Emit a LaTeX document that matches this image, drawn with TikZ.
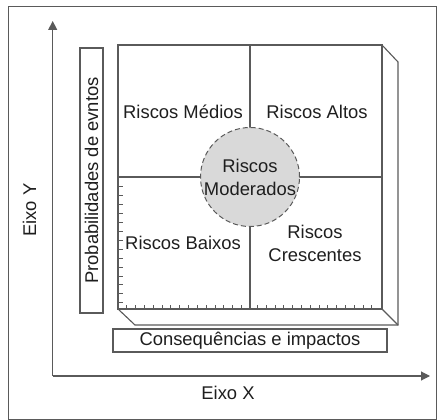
\documentclass[tikz,border=0pt]{standalone}
\usepackage{fontspec}
\setmainfont{Liberation Sans}
\usetikzlibrary{arrows.meta}
\definecolor{linegray}{HTML}{5A5A5A}
\definecolor{txt}{HTML}{1E1E1E}
\definecolor{circfill}{HTML}{D9D9D9}
\begin{document}
\begin{tikzpicture}[x=1pt,y=-1pt,
  ln/.style={draw=linegray, line width=1.1pt},
  thin ln/.style={draw=linegray, line width=0.8pt},
  lbl/.style={font=\fontsize{18.4}{23}\selectfont, text=txt, align=center, inner sep=0pt},
  axisarrow/.style={draw=linegray, line width=1.1pt, -{Triangle[length=9pt,width=9pt]}},
  boxlbl/.style={draw=linegray, line width=1.1pt, fill=white, font=\fontsize{18.4}{23}\selectfont, text=txt, inner sep=0pt}]
\useasboundingbox (0,0) rectangle (437,420);
% outer frame
\draw[thin ln] (8,6) rectangle (436.5,419.5);
% axes
\coordinate (O) at (52.7,376);
\coordinate (Ytip) at (52.7,21);
\coordinate (Xtip) at (430,376);
\draw[axisarrow] (O) -- (Ytip);
\draw[axisarrow] (O) -- (Xtip);
\node[lbl, rotate=90] (eixoy) at (29.5,210) {Eixo Y};
\node[lbl] (eixox) at (228,393) {Eixo X};
% main block corners
\coordinate (TL) at (118,45);
\coordinate (TR) at (382,45);
\coordinate (BL) at (118,309);
\coordinate (BR) at (382,309);
\coordinate (TRd) at (398,62);
\coordinate (BRd) at (398,325);
\coordinate (BLd) at (135,325);
\draw[ln, line join=miter] (TL) -- (TR) -- (BR) -- (BL) -- cycle;
\draw[ln, line join=miter] (TR) -- (TRd) -- (BRd) -- (BLd) -- (BL);
\draw[ln] (BR) -- (BRd);
% quadrant lines
\coordinate (Mtop) at (250,45);
\coordinate (Mbot) at (250,309);
\coordinate (Mleft) at (118,177);
\coordinate (Mright) at (382,177);
\draw[ln] (Mtop) -- (Mbot);
\draw[ln] (Mleft) -- (Mright);
% ticks on left edge
\foreach \k in {0,...,13}{
  \draw[thin ln] (118,186.7+\k*8.92) -- ++(4.5,0);
}
% ticks on bottom edge
\foreach \k in {0,...,13}{
  \draw[thin ln] (126.7+\k*8.82,309) -- ++(0,-4);
  \draw[thin ln] (257.3+\k*8.8,309) -- ++(0,-4);
}
% center circle
\node[circle, draw=linegray, line width=1pt, dashed, dash pattern=on 5pt off 3pt, fill=circfill, minimum size=99pt, inner sep=0pt] (circ) at (250,177) {};
\node[lbl] (mod) at (circ.center) {Riscos\\Moderados};
% quadrant labels
\node[lbl] (med) at (183,112) {Riscos Médios};
\node[lbl] (alt) at (317,112) {Riscos Altos};
\node[lbl] (bai) at (183,243) {Riscos Baixos};
\node[lbl] (cre) at (315,243) {Riscos\\Crescentes};
% side label boxes
\node[boxlbl, rotate=90, minimum width=265pt, minimum height=23pt] (prob) at (91.5,180.5) {Probabilidades de evntos};
\node[boxlbl, minimum width=274pt, minimum height=23pt] (cons) at (250,340.5) {Consequências e impactos};
\end{tikzpicture}
\end{document}
